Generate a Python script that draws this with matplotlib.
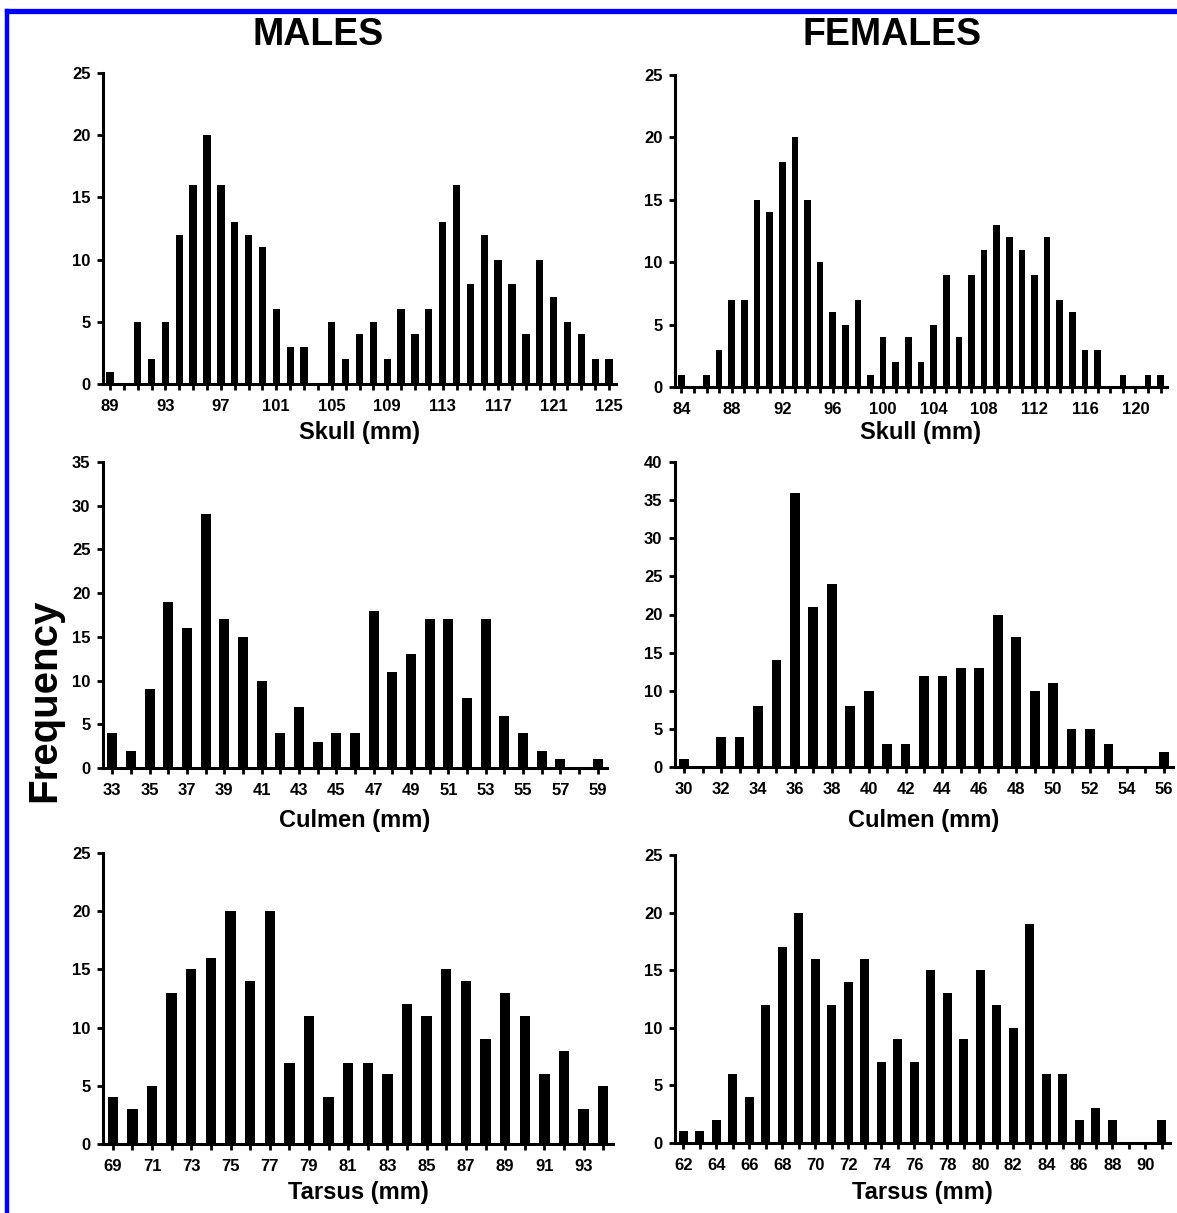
import numpy as np
import matplotlib
matplotlib.use("Agg")
import matplotlib.pyplot as plt
from matplotlib.lines import Line2D
from matplotlib import font_manager

plt.rcParams["font.family"] = ["Liberation Sans", "DejaVu Sans"]
plt.rcParams["font.weight"] = "bold"

# ---- data (frequencies per 1 mm class) ----
male_skull_mm = list(range(89, 126))
male_skull = [1, 0, 5, 2, 5, 12, 16, 20, 16, 13, 12, 11, 6, 3, 3, 0, 5, 2, 4, 5,
              2, 6, 4, 6, 13, 16, 8, 12, 10, 8, 4, 10, 7, 5, 4, 2, 2]
female_skull_mm = list(range(84, 123))
female_skull = [1, 0, 1, 3, 7, 7, 15, 14, 18, 20, 15, 10, 6, 5, 7, 1, 4, 2, 4, 2,
                5, 9, 4, 9, 11, 13, 12, 11, 9, 12, 7, 6, 3, 3, 0, 1, 0, 1, 1]
male_culmen_mm = list(range(33, 60))
male_culmen = [4, 2, 9, 19, 16, 29, 17, 15, 10, 4, 7, 3, 4, 4, 18, 11, 13, 17, 17,
               8, 17, 6, 4, 2, 1, 0, 1]
female_culmen_mm = list(range(30, 57))
female_culmen = [1, 0, 4, 4, 8, 14, 36, 21, 24, 8, 10, 3, 3, 12, 12, 13, 13, 20, 17,
                 10, 11, 5, 5, 3, 0, 0, 2]
male_tarsus_mm = list(range(69, 95))
male_tarsus = [4, 3, 5, 13, 15, 16, 20, 14, 20, 7, 11, 4, 7, 7, 6, 12, 11, 15, 14,
               9, 13, 11, 6, 8, 3, 5]
female_tarsus_mm = list(range(62, 92))
female_tarsus = [1, 1, 2, 6, 4, 12, 17, 20, 16, 12, 14, 16, 7, 9, 7, 15, 13, 9, 15,
                 12, 10, 19, 6, 6, 2, 3, 2, 0, 0, 2]

W, H = 1177, 1213
fig = plt.figure(figsize=(W / 100, H / 100), dpi=100)


def rect(x0, x1, ytop, ybot):
    return [x0 / W, 1 - ybot / H, (x1 - x0) / W, (ybot - ytop) / H]


panels = [
    # mm, counts, ymax, label step, rect (px), xlabel, xlabel y (px)
    (male_skull_mm, male_skull, 25, 4, (103, 616, 73, 384), "Skull (mm)", 432),
    (female_skull_mm, female_skull, 25, 4, (675, 1167, 75, 387), "Skull (mm)", 432),
    (male_culmen_mm, male_culmen, 35, 2, (103, 607, 462, 768), "Culmen (mm)", 821),
    (female_culmen_mm, female_culmen, 40, 2, (675, 1173, 462, 767), "Culmen (mm)", 821),
    (male_tarsus_mm, male_tarsus, 25, 2, (103, 613, 853, 1144), "Tarsus (mm)", 1193),
    (female_tarsus_mm, female_tarsus, 25, 2, (675, 1170, 855, 1143), "Tarsus (mm)", 1193),
]

for mm, counts, ymax, step, (x0, x1, yt, yb), xlabel, xly in panels:
    ax = fig.add_axes(rect(x0, x1, yt, yb))
    pos = np.arange(len(mm))
    ax.bar(pos, counts, width=0.53, color="black")
    ax.set_xlim(-0.5, len(mm) - 0.5)
    ax.set_ylim(0, ymax)
    ax.set_yticks(np.arange(0, ymax + 1, 5))
    ax.set_xticks(pos)
    ax.set_xticklabels([str(v) if i % step == 0 else "" for i, v in enumerate(mm)])
    for s in ["top", "right"]:
        ax.spines[s].set_visible(False)
    for s in ["left", "bottom"]:
        ax.spines[s].set_linewidth(2.2)
    ax.tick_params(axis="both", direction="out", length=4, width=2, labelsize=12)
    ax.tick_params(axis="x", pad=7)
    ax.tick_params(axis="y", pad=5)
    for lab in ax.get_xticklabels() + ax.get_yticklabels():
        lab.set_fontweight("bold")
    fig.text((x0 + x1) / 2 / W, 1 - xly / H, xlabel, ha="center", va="center",
             fontsize=17, fontweight="bold")

fig.text(318 / W, 1 - 35 / H, "MALES", ha="center", va="center", fontsize=27, fontweight="bold")
fig.text(892 / W, 1 - 35 / H, "FEMALES", ha="center", va="center", fontsize=27, fontweight="bold")

# the y title in the original is a tall, narrow face
installed = {f.name for f in font_manager.fontManager.ttflist}
if "Liberation Sans Narrow" in installed:
    fig.text(44 / W, 1 - 700 / H, "Frequency", ha="center", va="center", rotation=90,
             fontsize=35, fontweight="bold", family=["Liberation Sans Narrow"])
else:
    fig.text(44 / W, 1 - 700 / H, "Frequency", ha="center", va="center", rotation=90,
             fontsize=29, fontweight="bold")

# blue frame (top and left edges)
fig.add_artist(Line2D([7 / W, 7 / W], [0, 1 - 11 / H], color="#0000ff", linewidth=3.2,
                      transform=fig.transFigure))
fig.add_artist(Line2D([7 / W, 1], [1 - 11 / H, 1 - 11 / H], color="#0000ff", linewidth=3.8,
                      transform=fig.transFigure))

fig.savefig("out.png", dpi=100)
